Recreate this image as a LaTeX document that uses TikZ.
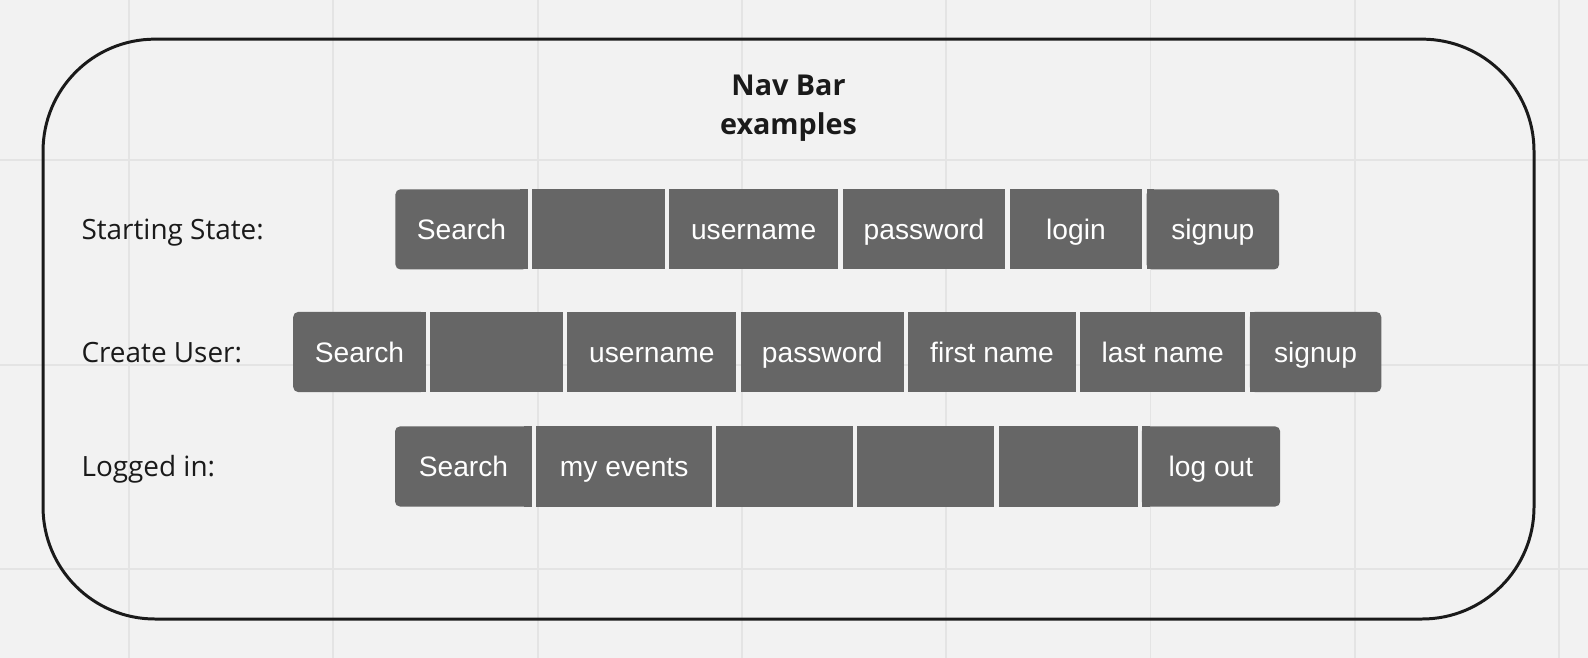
\documentclass[tikz,border=0pt]{standalone}
\usepackage{fontspec}
\setmainfont{Open Sans}
\newfontfamily\btnfont{Liberation Sans}
\usetikzlibrary{positioning}
\definecolor{canvasgray}{RGB}{242, 242, 242}
\definecolor{gridgray}{RGB}{228, 228, 228}
\definecolor{framedark}{RGB}{26, 26, 26}
\definecolor{navgray}{RGB}{102, 102, 102}

\begin{document}
\begin{tikzpicture}[
    navbtn/.style={rectangle, fill=navgray, text=white, font=\btnfont\fontsize{10.1}{12}\selectfont, minimum height=1.01cm, inner sep=0pt, outer sep=0pt, text height=7.2pt, text depth=0pt},
    navleft/.style={navbtn, rounded corners=1.8pt},
    navright/.style={navbtn, rounded corners=1.8pt},
    rowlabel/.style={anchor=west, inner sep=0pt, text height=7.2pt, text depth=0pt, text=framedark, font=\fontsize{10}{12}\selectfont},
    gridline/.style={gridgray, line width=0.7pt}
]

% Canvas
\fill[canvasgray] (0, 0) rectangle (20, 8.287);
\useasboundingbox (0, 0) rectangle (20, 8.287);

% Board grid
\draw[gridline] (1.625, 0) -- (1.625, 8.287);
\draw[gridline] (4.198, 0) -- (4.198, 8.287);
\draw[gridline] (6.771, 0) -- (6.771, 8.287);
\draw[gridline] (9.345, 0) -- (9.345, 8.287);
\draw[gridline] (11.917, 0) -- (11.917, 8.287);
\draw[gridline] (14.490, 0) -- (14.490, 8.287);
\draw[gridline] (17.063, 0) -- (17.063, 8.287);
\draw[gridline] (19.635, 0) -- (19.635, 8.287);
\draw[gridline] (0, 6.272) -- (20, 6.272);
\draw[gridline] (0, 3.696) -- (20, 3.696);
\draw[gridline] (0, 1.121) -- (20, 1.121);

% Outer frame
\draw[framedark, line width=1.07pt, rounded corners=1.41cm] (0.542, 0.491) rectangle (19.32, 7.794);

% Title
\node[font=\bfseries\fontsize{10.3}{14}\selectfont, align=center, text=framedark, anchor=base] (title) at (9.931, 6.587) {Nav Bar\\examples};

% ============ STARTING STATE ============
\node[rowlabel] (ss-label) at (1.02, 5.398) {Starting State:};

\node[navleft, minimum width=1.664cm, anchor=west] (ss-search) at (4.980, 5.398) {Search};
\node[navbtn, minimum width=1.670cm, right=0.057cm of ss-search] (ss-blank) {};
\node[navbtn, minimum width=2.128cm, right=0.057cm of ss-blank] (ss-user) {username};
\node[navbtn, minimum width=2.049cm, right=0.057cm of ss-user] (ss-pass) {password};
\node[navbtn, minimum width=1.664cm, right=0.057cm of ss-pass] (ss-login) {login};
\node[navright, minimum width=1.670cm, right=0.057cm of ss-login] (ss-signup) {signup};

% square off the inner corners
\fill[navgray] (ss-search.north east) rectangle ([xshift=-0.1cm]ss-search.south east);
\fill[navgray] (ss-signup.north west) rectangle ([xshift=0.1cm]ss-signup.south west);

% ============ CREATE USER ============
\node[rowlabel] (cu-label) at (1.02, 3.854) {Create User:};

\node[navleft, minimum width=1.669cm, anchor=west] (cu-search) at (3.693, 3.854) {Search};
\node[navbtn, minimum width=1.669cm, right=0.057cm of cu-search] (cu-blank) {};
\node[navbtn, minimum width=2.128cm, right=0.057cm of cu-blank] (cu-user) {username};
\node[navbtn, minimum width=2.052cm, right=0.057cm of cu-user] (cu-pass) {password};
\node[navbtn, minimum width=2.110cm, right=0.057cm of cu-pass] (cu-first) {first name};
\node[navbtn, minimum width=2.078cm, right=0.057cm of cu-first] (cu-last) {last name};
\node[navright, minimum width=1.655cm, right=0.057cm of cu-last] (cu-signup) {signup};

\fill[navgray] (cu-search.north east) rectangle ([xshift=-0.1cm]cu-search.south east);
\fill[navgray] (cu-signup.north west) rectangle ([xshift=0.1cm]cu-signup.south west);

% ============ LOGGED IN ============
\node[rowlabel] (li-label) at (1.02, 2.412) {Logged in:};

\node[navleft, minimum width=1.725cm, anchor=west] (li-search) at (4.975, 2.412) {Search};
\node[navbtn, minimum width=2.217cm, right=0.053cm of li-search] (li-events) {my events};
\node[navbtn, minimum width=1.722cm, right=0.053cm of li-events] (li-blank1) {};
\node[navbtn, minimum width=1.725cm, right=0.053cm of li-blank1] (li-blank2) {};
\node[navbtn, minimum width=1.751cm, right=0.053cm of li-blank2] (li-blank3) {};
\node[navright, minimum width=1.743cm, right=0.053cm of li-blank3] (li-logout) {log out};

\fill[navgray] (li-search.north east) rectangle ([xshift=-0.1cm]li-search.south east);
\fill[navgray] (li-logout.north west) rectangle ([xshift=0.1cm]li-logout.south west);

\end{tikzpicture}
\end{document}
